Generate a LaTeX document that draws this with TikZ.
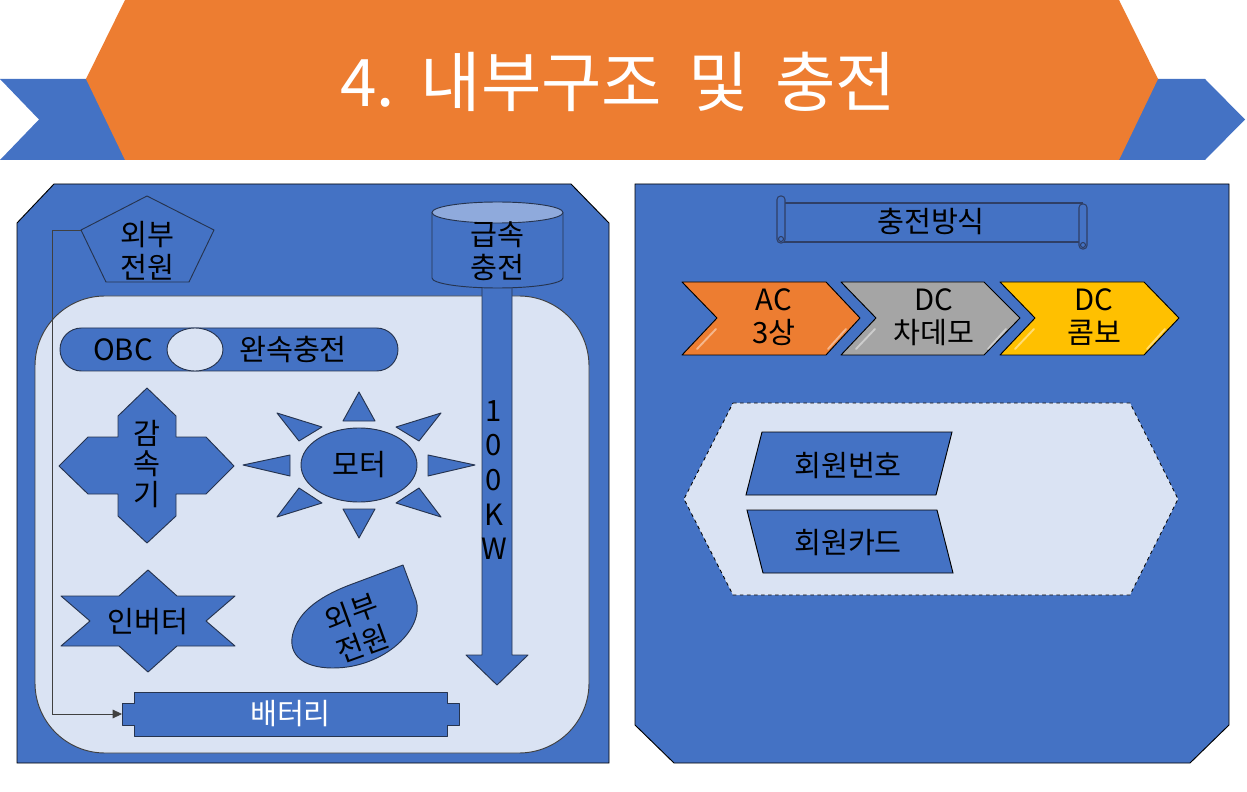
\documentclass[tikz,border=0pt]{standalone}
\usepackage{fontspec}
\setmainfont{Noto Sans CJK KR}
\usetikzlibrary{arrows.meta,shapes.geometric}
\definecolor{pptblue}{HTML}{4472C4}
\definecolor{pptorange}{HTML}{ED7D31}
\definecolor{pptgray}{HTML}{A5A5A5}
\definecolor{pptgold}{HTML}{FFC000}
\definecolor{lightfill}{HTML}{DAE3F3}
\definecolor{topblue}{HTML}{8FAADC}
\definecolor{edgeblue}{HTML}{26344F}
\definecolor{scrollnavy}{HTML}{2F3F66}
\definecolor{linegray}{HTML}{404040}
\begin{document}
\begin{tikzpicture}[
    x=0.03cm, y=-0.03cm,
    block/.style={fill=pptblue, draw=edgeblue, line width=0.8pt, line join=round},
    panel/.style={fill=pptblue, draw=black, line width=0.8pt},
    scroll/.style={fill=pptblue, draw=scrollnavy, line width=0.9pt},
    chev/.style={draw=black, line width=0.8pt, line join=round},
    para/.style={fill=pptblue, draw=black, line width=0.8pt},
    gloss/.style={draw=white, opacity=0.45, line width=1.6pt, line cap=round},
    txt/.style={font=\fontsize{25}{28.5}\selectfont, align=center, inner sep=0pt},
    arrow/.style={-{Triangle[length=2.8mm, width=2.6mm]}, draw=linegray, line width=0.7pt}
]
\fill[white] (0,0) rectangle (1247,792);
\useasboundingbox (0,0) rectangle (1247,792);

% title banner
\fill[pptblue] (0,79) -- (130,79) -- (130,160) -- (0,160) -- (39,119.5) -- cycle;
\fill[pptblue] (1110,79) -- (1205,79) -- (1245,119.5) -- (1205,160) -- (1110,160) -- cycle;
\fill[pptorange] (125,0) -- (1119,0) -- (1158,79) -- (1119,160) -- (125,160) -- (86,79) -- cycle;
\node[inner sep=0pt, text=white, font=\fontsize{56}{64}\selectfont] (title) at (618,82) {4.\hspace{0.4em}내부구조\hspace{0.4em}및\hspace{0.4em}충전};

% left panel
\draw[panel] (17,223) -- (54,184) -- (571,184) -- (609,223) -- (609,763) -- (17,763) -- cycle;
\draw[fill=lightfill, draw=linegray, line width=0.8pt, rounded corners=2.1cm] (35,296) rectangle (589,753);

\draw[block] (147,196) -- (214,230) -- (189,282) -- (106,282) -- (81,230) -- cycle;
\coordinate (extL) at (81,230);
\node[txt] (extpower) at (147,251) {외부\\전원};

\draw[block] (482,287) -- (512,287) -- (512,655) -- (528,655) -- (497,685) -- (466,655) -- (482,655) -- cycle;
\node[txt, font=\fontsize{25}{29.5}\selectfont] (kw) at (494,480) {1\\0\\0\\K\\W};

\draw[block] (432,212.5) -- (432,278) .. controls (432,283.5) and (461.3,288) .. (497.5,288) .. controls (533.7,288) and (563,283.5) .. (563,278) -- (563,212.5) -- cycle;
\draw[block, fill=topblue] (497.5,212.5) ellipse [x radius=65.5, y radius=10.5];
\node[txt] (rapid) at (497.5,251) {급속\\충전};

\draw[block, rounded corners=0.645cm] (60,328) rectangle (398,371);
\draw[block, fill=lightfill] (195,349.5) ellipse [x radius=28, y radius=21.5];
\node[txt] (obc) at (123,350) {OBC};
\node[txt] (slow) at (293,350) {완속충전};

\draw[block] (147,388) -- (176,416) -- (176,437) -- (206,437) -- (234,466) -- (206,494) -- (176,494) -- (176,516) -- (147,543) -- (118,516) -- (118,494) -- (88,494) -- (59,466) -- (88,437) -- (118,437) -- (118,416) -- cycle;
\node[txt, font=\fontsize{25}{26}\selectfont] (reducer) at (147,464) {감\\속\\기};

\draw[block] (343,421) -- (375,421) -- (359,392) -- cycle;
\draw[block] (343,509) -- (375,509) -- (359,538) -- cycle;
\draw[block] (290,455) -- (290,476) -- (243,465) -- cycle;
\draw[block] (428,455) -- (428,476) -- (475,465) -- cycle;
\draw[block] (322,427) -- (299,441) -- (277,413) -- cycle;
\draw[block] (396,427) -- (419,441) -- (441,413) -- cycle;
\draw[block] (322,503) -- (299,488) -- (277,517) -- cycle;
\draw[block] (396,503) -- (419,488) -- (441,517) -- cycle;
\node[block, ellipse, txt, minimum width=3.48cm, minimum height=2.22cm] (motor) at (359,465) {모터};

\draw[block] (148,570) -- (177,596) -- (235,596) -- (206,621) -- (235,646) -- (177,646) -- (148,672) -- (119,646) -- (61,646) -- (90,621) -- (61,596) -- (119,596) -- cycle;
\node[txt] (inverter) at (148,622) {인버터};

\draw[block] (403,565) -- (416,600) .. controls (425,628) and (385,668) .. (333,668) .. controls (300,668) and (286,652) .. (294,630) .. controls (302,606) and (330,592) .. (355,583) -- cycle;
\node[txt, rotate=20] (extpower2) at (357,628) {외부\\전원};

\draw[block] (134,692) -- (447,692) -- (447,703) -- (459,703) -- (459,725) -- (447,725) -- (447,736) -- (134,736) -- (134,725) -- (122,725) -- (122,703) -- (134,703) -- cycle;
\coordinate (battin) at (122,714);
\node[txt, text=white] (battery) at (290.5,714) {배터리};

\draw[arrow] (extL) -- ++(-29,0) |- (battin);

% right panel
\draw[panel] (635,184) -- (1229,184) -- (1229,725) -- (1190,763) -- (674,763) -- (635,725) -- cycle;

\draw[scroll] (784,203) rectangle (1082,242);
\draw[scroll, rounded corners=3pt] (777,196) rectangle (785,243);
\draw[scroll] (781,239) circle [radius=2.5];
\draw[scroll, rounded corners=3pt] (1079,204) rectangle (1087,249);
\draw[scroll] (1083,245) circle [radius=2.5];
\node[txt] (method) at (931,222) {충전방식};

\draw[chev, fill=pptorange] (682,282) -- (826,282) -- (860,318) -- (826,355) -- (682,355) -- (717,318) -- cycle;
\draw[chev, fill=pptgray] (841,282) -- (984,282) -- (1020,318) -- (984,355) -- (841,355) -- (876,318) -- cycle;
\draw[chev, fill=pptgold] (1000,282) -- (1144,282) -- (1179,318) -- (1144,355) -- (1000,355) -- (1035,318) -- cycle;
\draw[gloss] (716,329) -- (697,349);
\draw[gloss] (846,329) -- (828,349);
\draw[gloss] (875,329) -- (856,349);
\draw[gloss] (1006,329) -- (988,349);
\draw[gloss] (1034,329) -- (1015,349);
\draw[gloss] (1165,329) -- (1147,349);
\node[txt] (ac) at (774,317) {AC\\3상};
\node[txt] (chademo) at (934,317) {DC\\차데모};
\node[txt] (combo) at (1094,317) {DC\\콤보};

\draw[dashed, draw=black, line width=0.7pt, fill=lightfill] (733,403) -- (1130,403) -- (1178,499) -- (1130,595) -- (733,595) -- (684,499) -- cycle;

\draw[para] (762,432) -- (952,432) -- (936,495) -- (746,495) -- cycle;
\node[txt] (memberno) at (848,466) {회원번호};
\draw[para] (747,510) -- (937,510) -- (953,573) -- (763,573) -- cycle;
\node[txt] (membercard) at (848,543) {회원카드};

\end{tikzpicture}
\end{document}
